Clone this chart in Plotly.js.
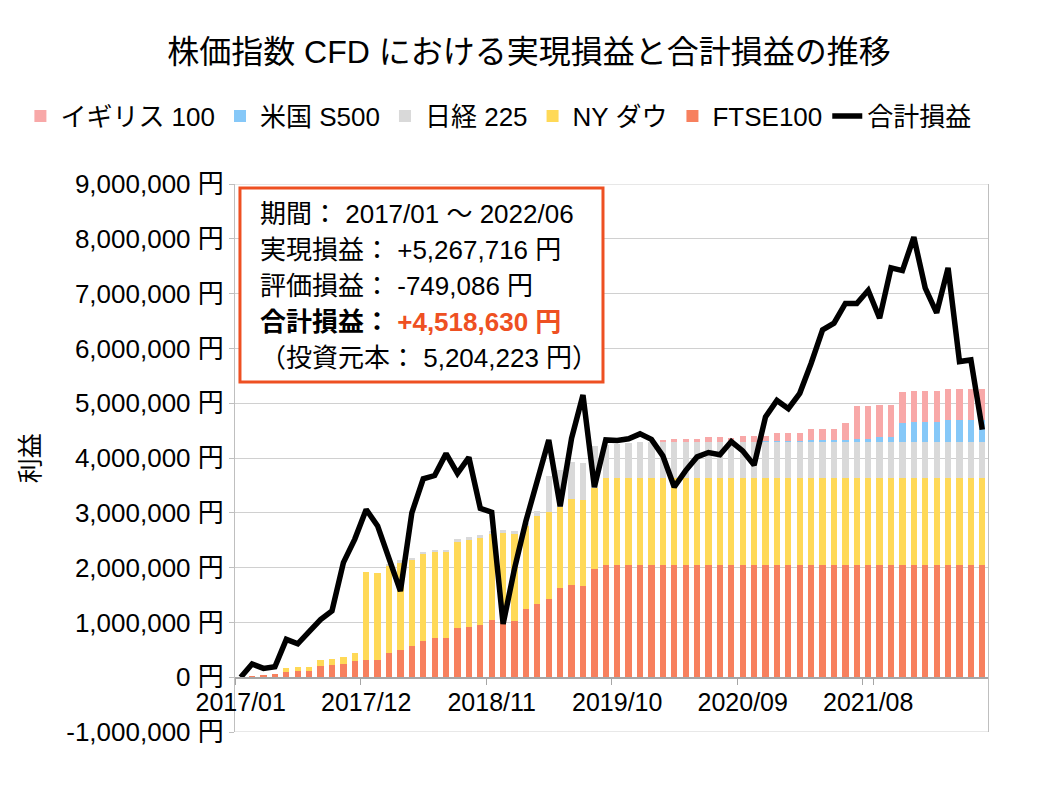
<!DOCTYPE html>
<html>
<head>
<meta charset="utf-8">
<script src="https://cdn.plot.ly/plotly-3.0.1.min.js"></script>
<style>
  body { margin: 0; background: #fff; }
  #chart { width: 1058px; height: 794px; }
</style>
</head>
<body>
<div id="chart"></div>
<script>
var months = [
    '2017/01','2017/02','2017/03','2017/04','2017/05','2017/06','2017/07','2017/08','2017/09','2017/10','2017/11','2017/12',
    '2018/01','2018/02','2018/03','2018/04','2018/05','2018/06','2018/07','2018/08','2018/09','2018/10','2018/11','2018/12',
    '2019/01','2019/02','2019/03','2019/04','2019/05','2019/06','2019/07','2019/08','2019/09','2019/10','2019/11','2019/12',
    '2020/01','2020/02','2020/03','2020/04','2020/05','2020/06','2020/07','2020/08','2020/09','2020/10','2020/11','2020/12',
    '2021/01','2021/02','2021/03','2021/04','2021/05','2021/06','2021/07','2021/08','2021/09','2021/10','2021/11','2021/12',
    '2022/01','2022/02','2022/03','2022/04','2022/05','2022/06'
];

var xLabels = ['2017/01', '2017/12', '2018/11', '2019/10', '2020/09', '2021/08'];

// 実現損益（累計, 円）
var ftse100 = [
    10000, 20000, 40000, 60000, 100000, 120000, 120000, 210000, 220000, 240000, 300000, 320000,
    320000, 450000, 500000, 570000, 660000, 710000, 710000, 900000, 910000, 960000, 1050000, 1000000,
    1020000, 1240000, 1340000, 1430000, 1620000, 1680000, 1660000, 1970000, 2050000, 2055000, 2055000, 2055000,
    2055000, 2055000, 2055000, 2055000, 2055000, 2055000, 2055000, 2055000, 2055000, 2055000, 2055000, 2055000,
    2055000, 2055000, 2055000, 2055000, 2055000, 2055000, 2055000, 2055000, 2055000, 2055000, 2055000, 2055000,
    2055000, 2055000, 2055000, 2055000, 2055000, 2055000
];
var nyDow = [
    0, 0, 0, 0, 60000, 60000, 70000, 100000, 120000, 120000, 150000, 1600000,
    1590000, 1580000, 1590000, 1570000, 1580000, 1580000, 1580000, 1570000, 1590000, 1580000, 1570000, 1630000,
    1590000, 1520000, 1600000, 1590000, 1490000, 1580000, 1580000, 1480000, 1590000, 1580000, 1580000, 1580000,
    1580000, 1580000, 1580000, 1580000, 1580000, 1580000, 1580000, 1580000, 1580000, 1580000, 1580000, 1580000,
    1580000, 1580000, 1580000, 1580000, 1580000, 1580000, 1580000, 1580000, 1580000, 1580000, 1580000, 1580000,
    1580000, 1580000, 1580000, 1580000, 1580000, 1580000
];
var nikkei225 = [
    0, 0, 0, 0, 0, 0, 0, 0, 0, 0, 0, 0,
    0, 30000, 40000, 40000, 50000, 40000, 40000, 50000, 50000, 60000, 40000, 50000,
    60000, 60000, 100000, 650000, 670000, 660000, 660000, 770000, 600000, 620000, 640000, 660000,
    660000, 660000, 660000, 660000, 660000, 660000, 660000, 660000, 660000, 660000, 660000, 660000,
    660000, 660000, 660000, 660000, 660000, 660000, 660000, 660000, 660000, 660000, 660000, 660000,
    660000, 660000, 660000, 660000, 660000, 660000
];
var usS500 = [
    0, 0, 0, 0, 0, 0, 0, 0, 0, 0, 0, 0,
    0, 0, 0, 0, 0, 0, 0, 0, 0, 0, 0, 0,
    0, 0, 0, 0, 0, 0, 0, 0, 0, 0, 0, 0,
    0, 0, 0, 0, 0, 0, 0, 0, 0, 0, 10000, 15000,
    15000, 15000, 30000, 30000, 30000, 40000, 60000, 60000, 80000, 80000, 340000, 370000,
    370000, 370000, 390000, 390000, 390000, 390000
];
var uk100 = [
    0, 0, 0, 0, 0, 0, 0, 0, 0, 0, 0, 0,
    0, 0, 0, 0, 0, 0, 0, 0, 0, 0, 0, 0,
    0, 0, 0, 0, 0, 0, 0, 0, 0, 0, 0, 0,
    0, 30000, 50000, 50000, 50000, 80000, 80000, 70000, 110000, 110000, 100000, 145000,
    145000, 145000, 200000, 200000, 200000, 300000, 600000, 600000, 600000, 600000, 570000, 560000,
    560000, 560000, 570000, 570000, 570000, 583000
];
// 合計損益（実現＋評価, 円）
var totalPL = [
    0, 240000, 160000, 190000, 690000, 610000, 830000, 1050000, 1210000, 2090000, 2520000, 3060000,
    2760000, 2200000, 1570000, 3000000, 3620000, 3680000, 4080000, 3720000, 4010000, 3080000, 3010000, 970000,
    1980000, 2850000, 3600000, 4330000, 3120000, 4360000, 5150000, 3470000, 4330000, 4320000, 4350000, 4440000,
    4340000, 4040000, 3470000, 3770000, 4020000, 4100000, 4060000, 4300000, 4130000, 3870000, 4750000, 5050000,
    4900000, 5180000, 5730000, 6340000, 6460000, 6820000, 6820000, 7060000, 6550000, 7470000, 7420000, 8030000,
    7100000, 6650000, 7470000, 5760000, 5790000, 4518630
];

var yTicks = [-1000000, 0, 1000000, 2000000, 3000000, 4000000, 5000000, 6000000, 7000000, 8000000, 9000000];
var yTickText = yTicks.map(function (v) {
    return (v < 0 ? '-' : '') + Math.abs(v).toLocaleString('en-US') + ' 円';
});

var summaryLines = [
    '期間： 2017/01 ～ 2022/06',
    '実現損益： +5,267,716 円',
    '評価損益： -749,086 円',
    '<b>合計損益： <span style="color:#ee5022">+4,518,630 円</span></b>',
    '（投資元本： 5,204,223 円）'
];

var fontFamily = '"Liberation Sans", Arial, "Noto Sans CJK JP", sans-serif';

function barTrace(name, values, color, rank) {
    return {
        type: 'bar',
        name: name,
        x: months,
        y: values,
        marker: { color: color },
        legendrank: rank,
        hoverinfo: 'skip'
    };
}

var traces = [
    barTrace('FTSE100', ftse100, '#f7805e', 5),
    barTrace('NY ダウ', nyDow, '#ffd957', 4),
    barTrace('日経 225', nikkei225, '#d9d9d9', 3),
    barTrace('米国 S500', usS500, '#86c8f8', 2),
    barTrace('イギリス 100', uk100, '#f8a8a8', 1),
    {
        type: 'scatter',
        mode: 'lines',
        name: '合計損益',
        x: months,
        y: totalPL,
        line: { color: '#000000', width: 5.5 },
        legendrank: 6,
        hoverinfo: 'skip'
    }
];

var annotations = summaryLines.map(function (txt, i) {
    return {
        xref: 'paper', yref: 'paper',
        x: 0.0305, y: 0.945 - i * 0.0657,
        xanchor: 'left', yanchor: 'middle',
        text: txt,
        showarrow: false,
        align: 'left',
        font: { family: fontFamily, size: 26, color: '#000' }
    };
});
annotations.push({
    xref: 'paper', yref: 'paper',
    x: -0.272, y: 0.5,
    xanchor: 'center', yanchor: 'middle',
    text: '利益',
    textangle: -90,
    showarrow: false,
    font: { family: fontFamily, size: 25, color: '#000' }
});

var layout = {
    width: 1058,
    height: 794,
    margin: { l: 235, r: 70, t: 184, b: 62 },
    paper_bgcolor: '#ffffff',
    plot_bgcolor: '#ffffff',
    font: { family: fontFamily, size: 25, color: '#000' },
    title: {
        text: '株価指数 CFD における実現損益と合計損益の推移',
        xref: 'container', x: 0.5, xanchor: 'center',
        yref: 'container', y: 1 - 52 / 794, yanchor: 'middle',
        font: { family: fontFamily, size: 32, color: '#000' }
    },
    barmode: 'stack',
    bargap: 0.45,
    showlegend: true,
    legend: {
        orientation: 'h',
        traceorder: 'normal',
        xref: 'paper', x: -0.285, xanchor: 'left',
        yref: 'paper', y: 1.124, yanchor: 'middle',
        font: { family: fontFamily, size: 26, color: '#000' },
        itemwidth: 30,
        tracegroupgap: 0
    },
    xaxis: {
        type: 'category',
        anchor: 'free',
        position: 0.1,
        tickmode: 'array',
        tickvals: xLabels,
        ticktext: xLabels,
        tickson: 'boundaries',
        ticks: 'outside',
        ticklen: 6,
        tickcolor: '#a6a6a6',
        ticklabelstandoff: 2,
        showline: true,
        linecolor: '#a6a6a6',
        linewidth: 1.5,
        showgrid: false,
        tickangle: 0,
        tickfont: { family: fontFamily, size: 25, color: '#000' }
    },
    yaxis: {
        range: [-1000000, 9000000],
        tickmode: 'array',
        tickvals: yTicks,
        ticktext: yTickText,
        ticks: 'outside',
        ticklen: 5,
        tickcolor: '#bfbfbf',
        ticklabelstandoff: 0,
        showline: true,
        mirror: true,
        linecolor: '#bfbfbf',
        gridcolor: '#d0d0d0',
        zeroline: false,
        tickfont: { family: fontFamily, size: 26, color: '#000' }
    },
    shapes: [
        {
            type: 'line', xref: 'paper', yref: 'y',
            x0: 0, x1: 1, y0: 9000000, y1: 9000000,
            line: { color: '#d0d0d0', width: 1 }, layer: 'below'
        },
        {
            type: 'line', xref: 'paper', yref: 'y',
            x0: 0, x1: 1, y0: -1000000, y1: -1000000,
            line: { color: '#d0d0d0', width: 1 }, layer: 'below'
        },
        {
            type: 'rect',
            xref: 'paper', yref: 'paper',
            x0: 0.0066, x1: 0.4887, y0: 0.6387, y1: 0.9927,
            line: { color: '#ee5022', width: 3 },
            fillcolor: '#ffffff',
            layer: 'above'
        }
    ],
    annotations: annotations
};

Plotly.newPlot('chart', traces, layout, { staticPlot: true, displayModeBar: false });
</script>
</body>
</html>
